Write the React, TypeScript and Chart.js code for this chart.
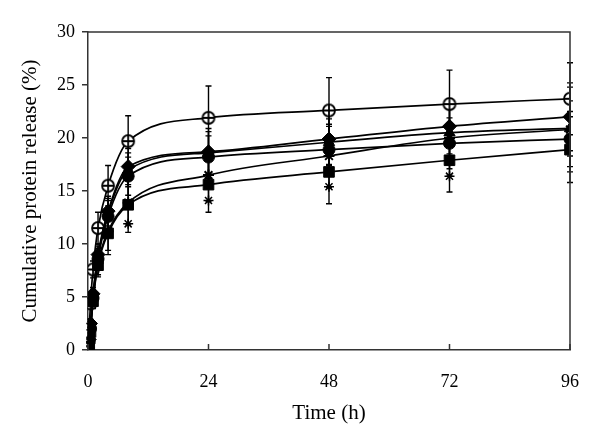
import React, { useEffect, useRef } from "react";
import { Chart, registerables } from "chart.js";
Chart.register(...registerables);

const times = [0, 0.25, 0.5, 1, 2, 4, 8, 24, 48, 72, 96];

const openCircle = [0, 2.2, 4.4, 7.6, 11.5, 15.5, 19.7, 21.9, 22.6, 23.2, 23.7];
const openCircleErr = [0, 0.3, 0.5, 0.8, 1.5, 1.9, 2.4, 3.0, 3.1, 3.2, 3.4];

const diamond = [0, 1.0, 2.5, 5.3, 9.0, 13.1, 17.3, 18.7, 19.9, 21.1, 22.0];
const diamondErr = [0, 0.2, 0.4, 0.6, 1.0, 1.4, 1.7, 2.2, 2.4, 2.6, 3.2];

const triangle = [0, 0.9, 2.3, 5.1, 8.8, 12.9, 17.0, 18.6, 19.6, 20.5, 20.9];
const triangleErr = [0, 0.2, 0.4, 0.6, 1.0, 1.4, 1.6, 2.0, 2.2, 2.4, 2.6];

const filledCircle = [0, 0.8, 2.0, 4.9, 8.6, 12.6, 16.4, 18.2, 18.9, 19.5, 19.9];
const filledCircleErr = [0, 0.2, 0.4, 0.6, 1.0, 1.5, 1.8, 2.0, 2.2, 2.4, 2.6];

const star = [0, 0.6, 1.8, 4.7, 8.2, 11.2, 13.9, 16.5, 18.3, 20.0, 20.8];
const starErr = [0, 0.2, 0.4, 0.7, 1.1, 1.8, 2.1, 2.5, 3.0, 3.5, 4.0];

const square = [0, 0.5, 1.7, 4.6, 8.0, 11.0, 13.7, 15.6, 16.8, 17.9, 18.9];
const squareErr = [0, 0.2, 0.4, 0.7, 1.1, 2.0, 2.6, 2.6, 3.0, 3.0, 3.1];

const asteriskTimes = [8, 24, 48, 72];
const asterisk = [11.9, 14.1, 15.4, 16.4];

const xTicks = [0, 24, 48, 72, 96];
const yTicks = [0, 5, 10, 15, 20, 25, 30];

const xTitle = "Time (h)";
const yTitle = "Cumulative protein release (%)";

const INK = "#000";
const AXIS = "#333";
const FONT = "'Liberation Serif', 'Times New Roman', serif";

function makeOpenCircleMarker(): HTMLCanvasElement {
  const c = document.createElement("canvas");
  c.width = 16;
  c.height = 16;
  const g = c.getContext("2d")!;
  g.lineWidth = 1.8;
  g.strokeStyle = INK;
  g.fillStyle = "#fff";
  g.beginPath();
  g.arc(8, 8, 6, 0, Math.PI * 2);
  g.fill();
  g.stroke();
  g.beginPath();
  g.moveTo(2, 8);
  g.lineTo(14, 8);
  g.moveTo(8, 2);
  g.lineTo(8, 14);
  g.stroke();
  return c;
}

const errorBarPlugin = {
  id: "errorBars",
  beforeDatasetsDraw(chart: any) {
    const ctx = chart.ctx;
    const y = chart.scales.y;
    ctx.save();
    ctx.strokeStyle = INK;
    ctx.lineWidth = 1.4;
    chart.data.datasets.forEach((ds: any, di: number) => {
      if (!ds.errors) return;
      const meta = chart.getDatasetMeta(di);
      meta.data.forEach((pt: any, i: number) => {
        const e = ds.errors[i];
        if (!e) return;
        const v = ds.data[i].y;
        const top = y.getPixelForValue(v + e);
        const bot = y.getPixelForValue(v - e);
        ctx.beginPath();
        ctx.moveTo(pt.x, top);
        ctx.lineTo(pt.x, bot);
        ctx.moveTo(pt.x - 3, top);
        ctx.lineTo(pt.x + 3, top);
        ctx.moveTo(pt.x - 3, bot);
        ctx.lineTo(pt.x + 3, bot);
        ctx.stroke();
      });
    });
    ctx.restore();
  },
};

const framePlugin = {
  id: "frame",
  afterDraw(chart: any) {
    const { ctx, chartArea } = chart;
    const x = chart.scales.x;
    ctx.save();
    ctx.strokeStyle = AXIS;
    ctx.lineWidth = 1.5;
    ctx.beginPath();
    ctx.moveTo(chartArea.left, chartArea.top);
    ctx.lineTo(chartArea.right, chartArea.top);
    ctx.lineTo(chartArea.right, chartArea.bottom);
    ctx.stroke();
    ctx.beginPath();
    xTicks.forEach((t) => {
      const px = x.getPixelForValue(t);
      ctx.moveTo(px, chartArea.bottom);
      ctx.lineTo(px, chartArea.bottom - 6);
    });
    ctx.stroke();
    ctx.restore();
  },
};

function pts(xs: number[], ys: number[]) {
  return xs.map((t, i) => ({ x: t, y: ys[i] }));
}

export default function App() {
  const ref = useRef<HTMLCanvasElement | null>(null);
  useEffect(() => {
    if (!ref.current) return;
    const openMarker = makeOpenCircleMarker();
    const line = (data: number[], errs: number[], style: any, radius: number, extra: any = {}) => ({
      data: pts(times, data),
      errors: errs,
      borderColor: INK,
      backgroundColor: INK,
      borderWidth: 1.7,
      pointStyle: style,
      pointRadius: radius,
      pointBorderWidth: 1,
      pointBorderColor: INK,
      pointBackgroundColor: INK,
      cubicInterpolationMode: "monotone",
      showLine: true,
      ...extra,
    });
    const chart = new Chart(ref.current, {
      type: "scatter",
      data: {
        datasets: [
          line(square, squareErr, "rect", 7.5),
          line(star, starErr, "star", 5.5, { pointBorderWidth: 2 }),
          line(filledCircle, filledCircleErr, "circle", 6),
          line(triangle, triangleErr, "triangle", 6.5),
          line(diamond, diamondErr, "rectRot", 7),
          line(openCircle, openCircleErr, openMarker, 8),
          {
            data: pts(asteriskTimes, asterisk),
            showLine: false,
            pointStyle: "star",
            pointRadius: 5,
            pointBorderWidth: 1.5,
            pointBorderColor: INK,
            pointBackgroundColor: INK,
            borderColor: INK,
          } as any,
        ] as any,
      },
      options: {
        animation: false,
        responsive: true,
        maintainAspectRatio: false,
        layout: { padding: { left: 18, right: 28, top: 32, bottom: 11 } },
        plugins: { legend: { display: false }, tooltip: { enabled: false } },
        scales: {
          x: {
            type: "linear",
            min: 0,
            max: 96,
            afterBuildTicks: (s: any) => {
              s.ticks = xTicks.map((v) => ({ value: v }));
            },
            afterFit: (s: any) => {
              s.height = 76;
            },
            grid: { display: true, drawOnChartArea: false, drawTicks: false },
            border: { color: AXIS, width: 1.5 },
            ticks: { color: INK, padding: 21, font: { family: FONT, size: 18 } },
            title: { display: true, text: xTitle, color: INK, padding: 0, font: { family: FONT, size: 21 } },
          },
          y: {
            type: "linear",
            min: 0,
            max: 30,
            afterBuildTicks: (s: any) => {
              s.ticks = yTicks.map((v) => ({ value: v }));
            },
            afterFit: (s: any) => {
              s.width = 70;
            },
            grid: { display: true, drawOnChartArea: false, drawTicks: true, tickLength: 6, color: AXIS, lineWidth: 1.5 },
            border: { color: AXIS, width: 1.5 },
            ticks: { color: INK, padding: 7, font: { family: FONT, size: 18 } },
            title: { display: true, text: yTitle, color: INK, padding: 0, font: { family: FONT, size: 21 } },
          },
        },
      } as any,
      plugins: [errorBarPlugin, framePlugin],
    });
    return () => chart.destroy();
  }, []);
  return (
    <div style={{ position: "fixed", left: 0, top: 0, width: 600, height: 437, background: "#fff" }}>
      <canvas ref={ref} />
    </div>
  );
}
